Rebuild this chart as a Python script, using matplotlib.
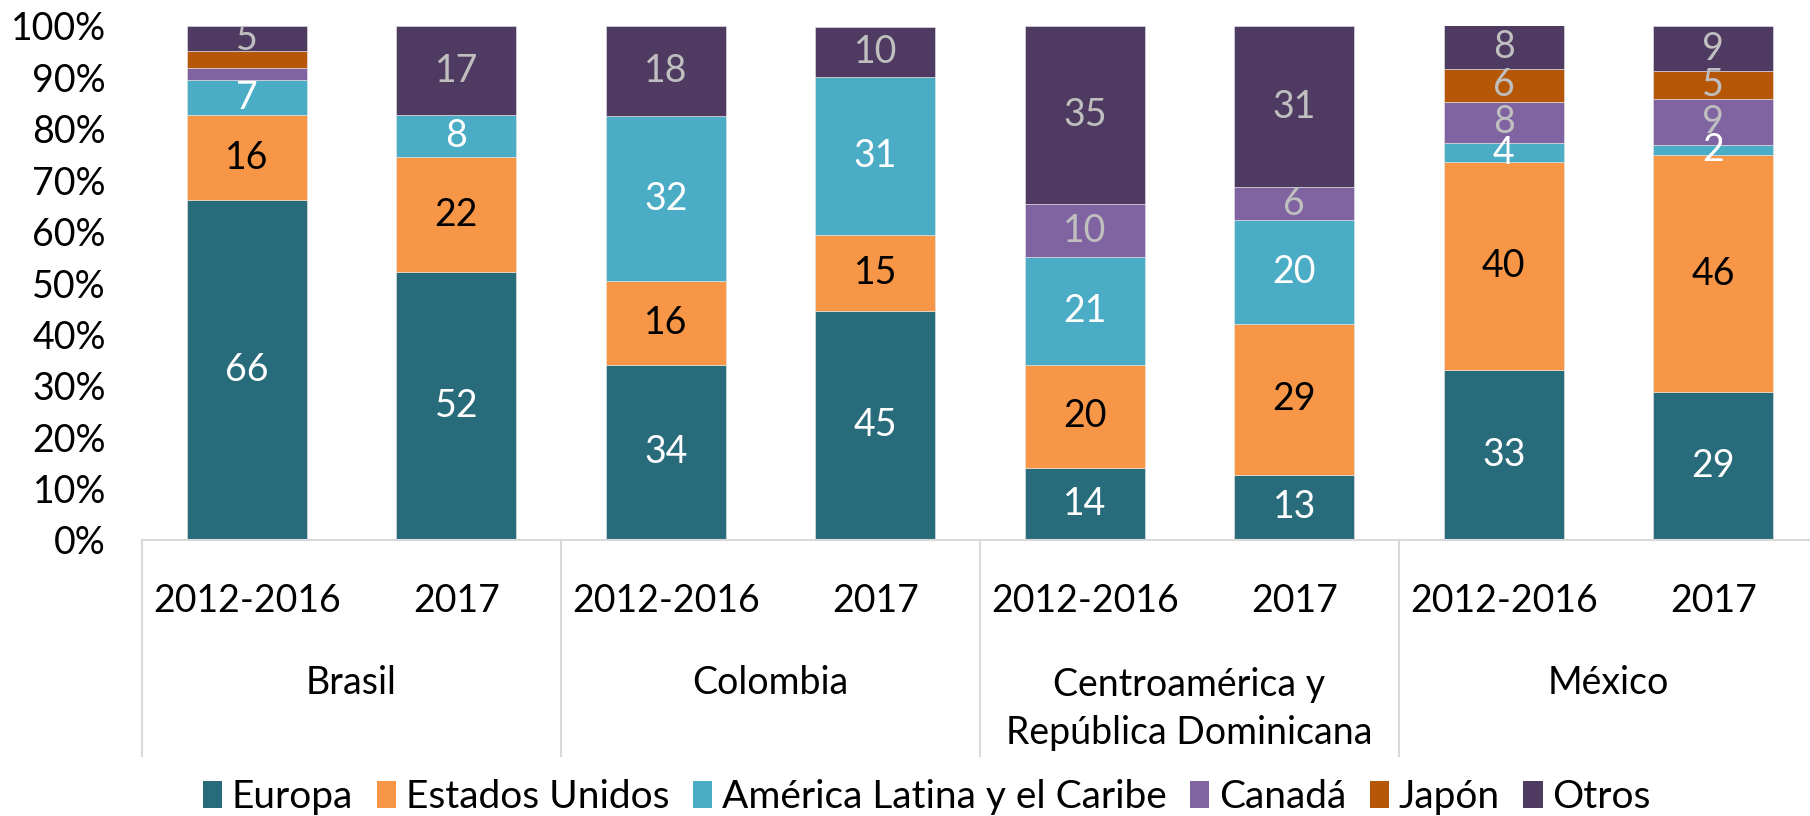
import numpy as np
import matplotlib
matplotlib.use("Agg")
import matplotlib.pyplot as plt
import matplotlib.transforms as mtransforms
from matplotlib.patches import Patch

plt.rcParams["font.family"] = ["Lato", "DejaVu Sans"]

groups = ["Brasil", "Colombia", "Centroamérica y\nRepública Dominicana", "México"]
periods = ["2012-2016", "2017"]
series = ["Europa", "Estados Unidos", "América Latina y el Caribe", "Canadá", "Japón", "Otros"]

# one value per bar: Brasil 12-16, Brasil 17, Colombia 12-16, Colombia 17, CA 12-16, CA 17, México 12-16, México 17
europa = [66.2, 52.1, 34.1, 44.6, 14.1, 12.7, 33.1, 28.7]
estados_unidos = [16.4, 22.4, 16.3, 14.8, 20.0, 29.4, 40.4, 46.2]
america_latina = [6.8, 8.1, 32.0, 30.7, 20.9, 20.2, 3.7, 1.9]
canada = [2.5, 0, 0, 0, 10.3, 6.3, 8.1, 9.0]
japon = [3.2, 0, 0, 0, 0, 0, 6.4, 5.4]
otros = [4.9, 17.4, 17.6, 9.8, 34.7, 31.4, 8.4, 8.8]

# labels not printed in the original
hidden = [(0, "Canadá"), (0, "Japón")]

colors = ["#286B7B", "#F79646", "#4BACC6", "#8064A2", "#B65708", "#4F3A62"]
label_colors = ["white", "black", "white", "#BFBFBF", "#BFBFBF", "#BFBFBF"]

values = [europa, estados_unidos, america_latina, canada, japon, otros]

fig = plt.figure(figsize=(18.1, 8.16), dpi=100)
ax = fig.add_axes([142 / 1810, 1 - 540 / 816, 1676 / 1810, 514 / 816])

x = np.arange(len(europa))
bottom = np.zeros(len(x))
for name, vals, c, lc in zip(series, values, colors, label_colors):
    vals = np.array(vals, dtype=float)
    ax.bar(x, vals, 0.573, bottom=bottom, color=c, edgecolor="#E8E8E8",
           linewidth=0.4, zorder=2)
    for xi, v, b in zip(x, vals, bottom):
        if v <= 0 or (xi, name) in hidden:
            continue
        ax.text(xi, b + v / 2, f"{v:.0f}", ha="center", va="center",
                fontsize=27, color=lc, clip_on=True, zorder=3)
    bottom += vals

ax.set_xlim(-0.5, len(x) - 0.5)
ax.set_ylim(0, 100)
ax.set_yticks(np.arange(0, 101, 10))
ax.set_yticklabels([f"{t}%" for t in range(0, 101, 10)], fontsize=27)
ax.tick_params(axis="y", length=0, pad=26)
ax.set_xticks([])
for s in ["top", "right", "left"]:
    ax.spines[s].set_visible(False)
ax.spines["bottom"].set_color("#D9D9D9")
ax.spines["bottom"].set_linewidth(1.5)

trans = mtransforms.blended_transform_factory(ax.transData, ax.transAxes)
for i in range(len(groups) + 1):
    ax.plot([i * 2 - 0.5, i * 2 - 0.5], [0, -0.42], color="#D9D9D9", lw=1.5,
            transform=trans, clip_on=False)

for xi in x:
    ax.text(xi, -0.118, periods[xi % 2], transform=trans, ha="center",
            va="center", fontsize=27)
for gi, g in enumerate(groups):
    ax.text(gi * 2 + 0.5, -0.279 if "\n" not in g else -0.329, g,
            transform=trans, ha="center", va="center", fontsize=27,
            linespacing=1.4)

handles = [Patch(facecolor=c, edgecolor="none") for c in colors]
fig.legend(handles, series, loc="center", bbox_to_anchor=(0.512, 1 - 797 / 816),
           ncol=6, frameon=False, fontsize=28, handlelength=0.5,
           handleheight=0.7, handletextpad=0.25, columnspacing=0.6,
           borderaxespad=0)

fig.savefig("out.png", dpi=100)
